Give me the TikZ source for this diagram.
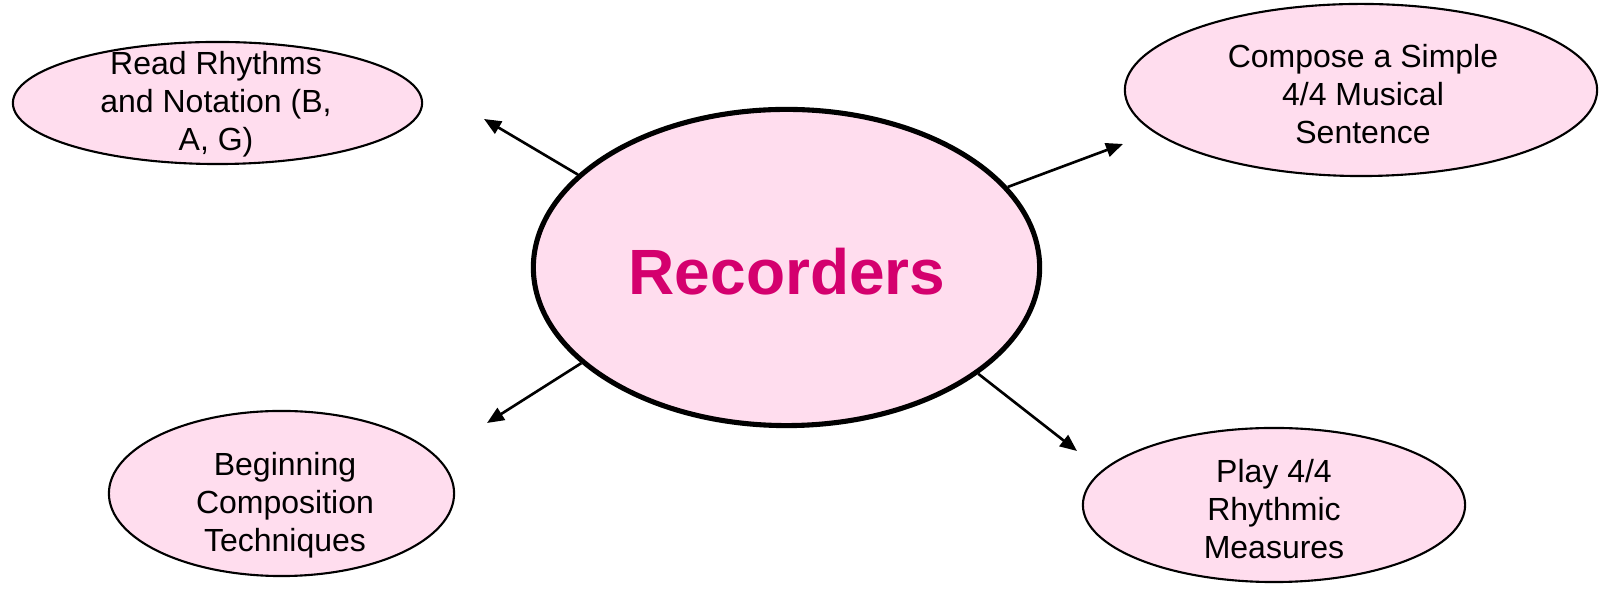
\documentclass[tikz,border=0pt]{standalone}
\usepackage{fontspec}
\setmainfont{Liberation Sans}
\usetikzlibrary{shapes.geometric,arrows.meta}
\definecolor{pinkfill}{HTML}{FFDDEE}
\definecolor{magentatext}{HTML}{D4006E}
\begin{document}
\begin{tikzpicture}[x=0.01cm,y=-0.01cm,
  topic/.style={ellipse, draw=black, line width=0.6pt, fill=pinkfill, inner sep=0pt},
  hub/.style={ellipse, draw=black, line width=1.45pt, fill=pinkfill, inner sep=0pt, minimum width=5.06cm, minimum height=3.16cm},
  topictext/.style={align=center, font=\fontsize{9.1}{10.8}\selectfont, inner sep=0pt},
  hubtext/.style={font=\fontsize{18.2}{20}\selectfont\bfseries, text=magentatext, inner sep=0pt},
  link/.style={line width=0.75pt, -{Triangle[length=0.17cm,width=0.14cm]}}]
\useasboundingbox (0,0) rectangle (1600,589);
% ellipses
\node[hub] (hub) at (786.5,267.5) {};
\node[topic, minimum width=4.09cm, minimum height=1.22cm] (tl) at (217.5,103) {};
\node[topic, minimum width=4.72cm, minimum height=1.72cm] (tr) at (1361,90) {};
\node[topic, minimum width=3.45cm, minimum height=1.65cm] (bl) at (281.5,493.5) {};
\node[topic, minimum width=3.82cm, minimum height=1.54cm] (br) at (1274,505) {};
% texts
\node[hubtext] (hubt) at (787,272) {Recorders};
\node[topictext] (tlt) at (216,104) {Read Rhythms\\and Notation (B,\\A, G)};
\node[topictext] (trt) at (1363,94) {Compose a Simple\\4/4 Musical\\Sentence};
\node[topictext] (blt) at (285,505) {Beginning\\Composition\\Techniques};
\node[topictext] (brt) at (1274,509) {Play 4/4\\Rhythmic\\Measures};
% arrow tips
\coordinate (tipTL) at (484,119);
\coordinate (tipTR) at (1123,144);
\coordinate (tipBL) at (487,423);
\coordinate (tipBR) at (1077,451);
\draw[link] (hub.156.6) -- (tipTL);
\draw[link] (hub.20) -- (tipTR);
\draw[link] (hub.205) -- (tipBL);
\draw[link] (hub.331) -- (tipBR);
\end{tikzpicture}
\end{document}
